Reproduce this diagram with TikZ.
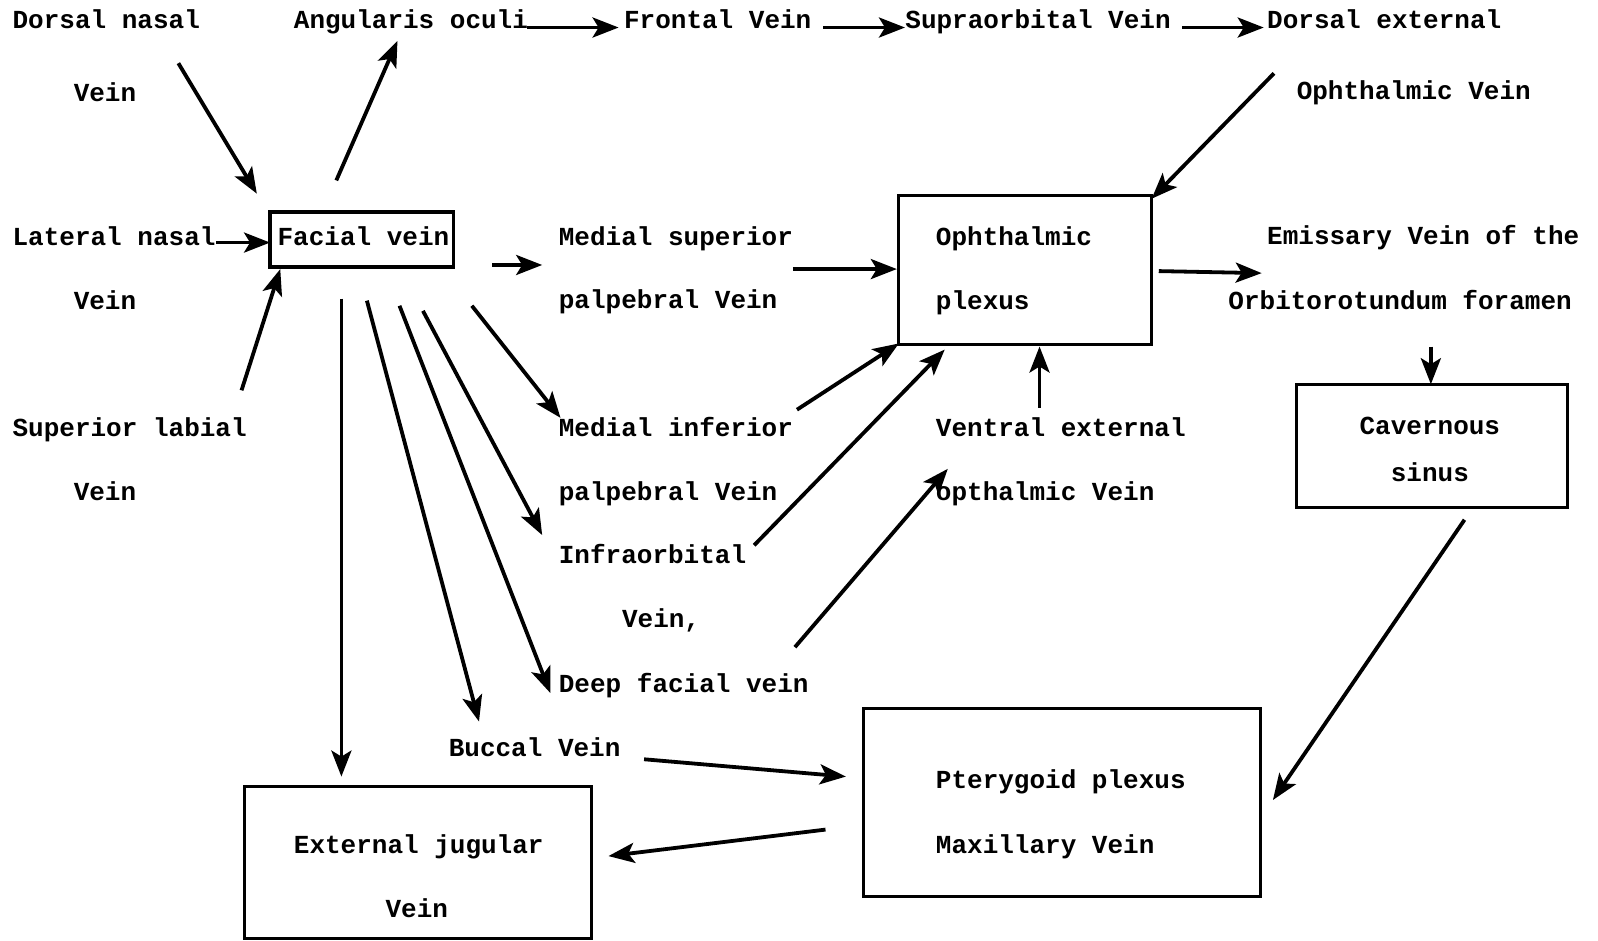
\documentclass[tikz,border=0pt]{standalone}
\usepackage{fontspec}
\setmainfont{Liberation Mono}
\usetikzlibrary{arrows.meta,fit}
\begin{document}
\begin{tikzpicture}[x=0.5095pt,y=-0.5095pt,
  lbl/.style={anchor=base west,inner sep=0pt,font=\fontsize{13}{15}\selectfont\bfseries},
  clbl/.style={anchor=base,inner sep=0pt,font=\fontsize{13}{15}\selectfont\bfseries},
  box/.style={draw,line width=1.6pt,inner sep=0pt,rectangle},
  arr/.style={line width=1.9pt,-{Stealth[length=13pt,width=10pt,inset=3pt]}}]
\useasboundingbox (0,0) rectangle (1568,923);
% boxes
\node[box,fit={(265,208)(445,262)}] (fac) {};
\node[box,fit={(882,192)(1130,338)}] (oph) {};
\node[box,fit={(1272,377)(1538,498)}] (cav) {};
\node[box,fit={(847,695)(1237,880)}] (pte) {};
\node[box,fit={(240,772)(580,921)}] (ext) {};
% texts
\node[lbl] (dn1) at (12,28) {Dorsal nasal};
\node[lbl] (dn2) at (72,100) {Vein};
\node[lbl] (ang) at (288,28) {Angularis oculi};
\node[lbl] (fro) at (612,28) {Frontal Vein};
\node[lbl] (sup) at (888,28) {Supraorbital Vein};
\node[lbl] (de1) at (1243,28) {Dorsal external};
\node[lbl] (de2) at (1272,98) {Ophthalmic Vein};
\node[lbl] (ln1) at (12,241) {Lateral nasal};
\node[lbl] (ln2) at (72,304) {Vein};
\node[lbl] (fact) at (272,241) {Facial vein};
\node[lbl] (ms1) at (548,241) {Medial superior};
\node[lbl] (ms2) at (548,303) {palpebral Vein};
\node[lbl] (oph1) at (918,241) {Ophthalmic};
\node[lbl] (oph2) at (918,304) {plexus};
\node[lbl] (em1) at (1243,240) {Emissary Vein of the};
\node[lbl] (em2) at (1205,304) {Orbitorotundum foramen};
\node[lbl] (sl1) at (12,428) {Superior labial};
\node[lbl] (sl2) at (72,491) {Vein};
\node[lbl] (mi1) at (548,428) {Medial inferior};
\node[lbl] (mi2) at (548,491) {palpebral Vein};
\node[lbl] (ve1) at (918,428) {Ventral external};
\node[lbl] (ve2) at (918,491) {opthalmic Vein};
\node[clbl] (cav1) at (1403,426) {Cavernous};
\node[clbl] (cav2) at (1403,472) {sinus};
\node[lbl] (io1) at (548,553) {Infraorbital};
\node[lbl] (io2) at (610,616) {Vein,};
\node[lbl] (df) at (548,679) {Deep facial vein};
\node[lbl] (bu) at (440,742) {Buccal Vein};
\node[lbl] (pt1) at (918,774) {Pterygoid plexus};
\node[lbl] (pt2) at (918,837) {Maxillary Vein};
\node[lbl] (ej1) at (288,837) {External jugular};
\node[lbl] (ej2) at (378,900) {Vein};
% connector end points
\coordinate (a1s) at (175,62);   \coordinate (a1e) at (252,190);
\coordinate (a2s) at (330,177);  \coordinate (a2e) at (390,40);
\coordinate (a3s) at (517,27);   \coordinate (a3e) at (607,27);
\coordinate (a4s) at (808,27);   \coordinate (a4e) at (888,27);
\coordinate (a5s) at (1160,27);  \coordinate (a5e) at (1240,27);
\coordinate (a6s) at (1250,72);  \coordinate (a6e) at (1130,195);
\coordinate (a7s) at (212,238);  \coordinate (a7e) at (265,238);
\coordinate (a8s) at (237,383);  \coordinate (a8e) at (275,264);
\coordinate (a9s) at (483,260);  \coordinate (a9e) at (532,260);
\coordinate (a10s) at (778,264); \coordinate (a10e) at (880,264);
\coordinate (a11s) at (1137,266);\coordinate (a11e) at (1238,268);
\coordinate (a12s) at (1404,340);\coordinate (a12e) at (1404,377);
\coordinate (a13s) at (782,402); \coordinate (a13e) at (882,337);
\coordinate (a14s) at (740,535); \coordinate (a14e) at (927,343);
\coordinate (a15s) at (1020,400);\coordinate (a15e) at (1020,340);
\coordinate (a16s) at (780,635); \coordinate (a16e) at (930,460);
\coordinate (a17s) at (1437,510);\coordinate (a17e) at (1249,785);
\coordinate (a18s) at (632,745); \coordinate (a18e) at (830,762);
\coordinate (a19s) at (810,814); \coordinate (a19e) at (597,840);
\coordinate (a20s) at (335,293); \coordinate (a20e) at (335,762);
\coordinate (a21s) at (360,295); \coordinate (a21e) at (470,708);
\coordinate (a22s) at (392,300); \coordinate (a22e) at (540,680);
\coordinate (a23s) at (415,305); \coordinate (a23e) at (532,525);
\coordinate (a24s) at (463,300); \coordinate (a24e) at (550,410);
\foreach \i in {1,...,24} { \draw[arr] (a\i s) -- (a\i e); }
\end{tikzpicture}
\end{document}
